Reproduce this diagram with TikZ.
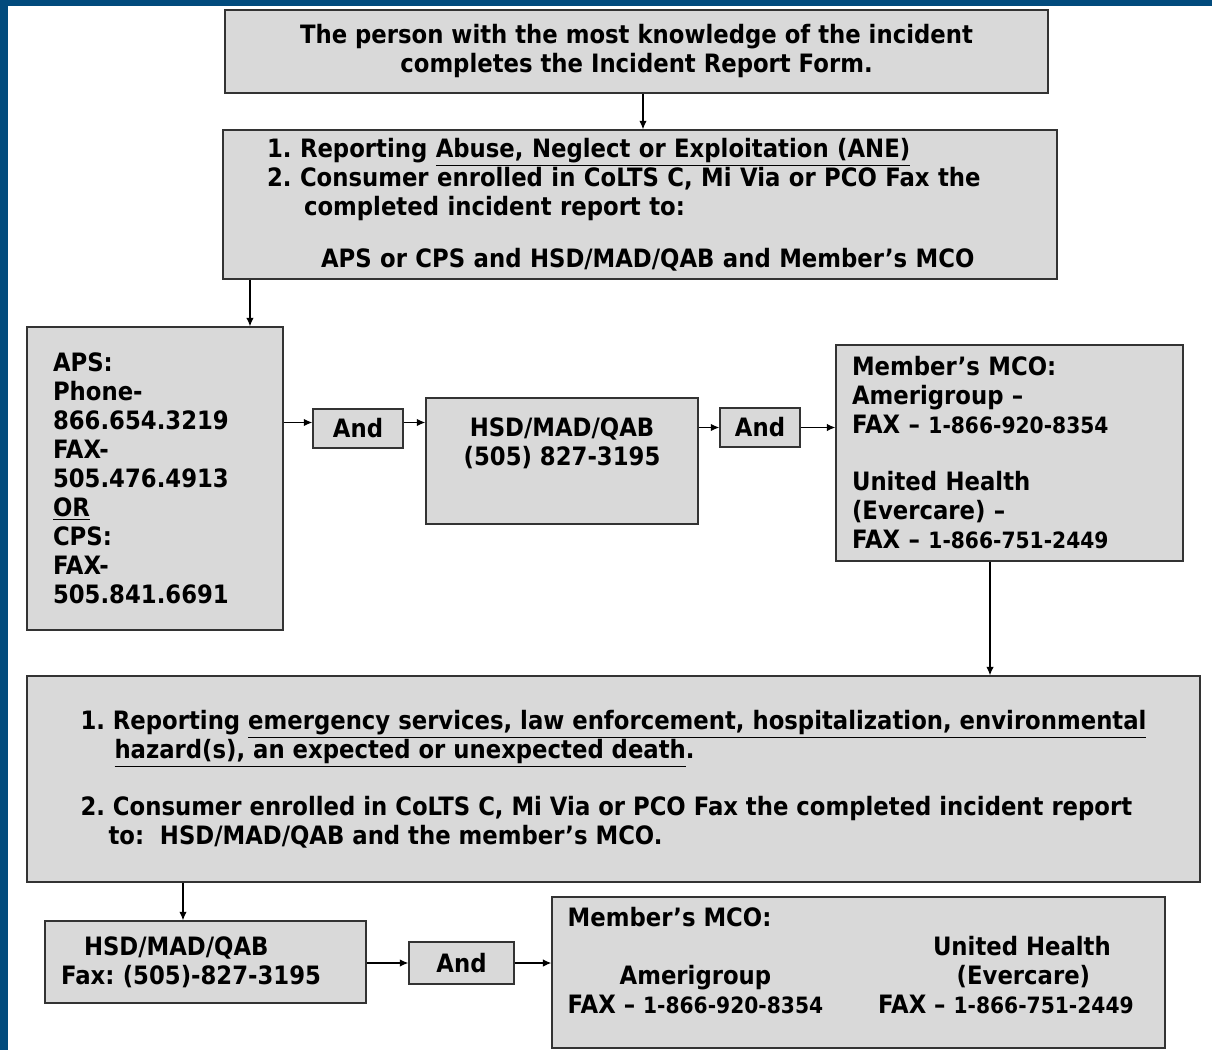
\documentclass[tikz,border=0pt]{standalone}
\usepackage{fontspec}
\setmainfont{DejaVu Sans}[FakeStretch=0.9]
\usetikzlibrary{arrows.meta,positioning,calc}
\definecolor{framebl}{RGB}{2,75,125}
\definecolor{boxgray}{RGB}{217,217,217}
\newcommand{\phn}[1]{{\fontsize{12.8}{16.5}\selectfont #1}}
\frenchspacing

\begin{document}
\begin{tikzpicture}[
  x=0.02cm, y=-0.02cm,
  font=\bfseries\fontsize{14.4}{16.5}\selectfont,
  box/.style={draw=black!80,line width=0.8pt,fill=boxgray,inner sep=0pt},
  andbox/.style={box,align=center},
  flow/.style={-{Latex[length=1.7mm,width=1.5mm]},line width=0.7pt}
]
% frame
\fill[framebl] (0,0) rectangle (1212,1050);
\fill[white] (8,6) rectangle (1212,1050);
\useasboundingbox (0,0) rectangle (1212,1050);

% upper half
\node[box,minimum width=164.6mm,minimum height=16.6mm,align=center] (form) at (636.5,51.5)
  {The person with the most knowledge of the incident\\completes the Incident Report Form.};
\node[box,minimum height=29.8mm,text width=149.2mm,inner xsep=8.8mm,align=left] (ane) at (640,204.5)
  {1. Reporting \underline{Abuse, Neglect or Exploitation (ANE)}\\
   2. Consumer enrolled in CoLTS C, Mi Via or PCO Fax the\\
   \hspace*{7.4mm}completed incident report to:\\[4.6mm]
   \hspace*{10.8mm}APS or CPS and HSD/MAD/QAB and Member’s MCO};
\node[box,minimum height=60.6mm,text width=40.8mm,inner xsep=5.2mm,align=left] (aps) at (155,478.5)
  {APS:\\Phone-\\866.654.3219\\FAX-\\505.476.4913\\\underline{OR}\\CPS:\\FAX-\\505.841.6691};
\node[andbox,minimum width=18mm,minimum height=7.8mm] (and1) at (358,428.5) {And};
\node[box,minimum width=54.4mm,minimum height=25.2mm] (hsd) at (562,461) {};
\node[anchor=north,inner sep=0pt,align=center] (hsdtxt) at ([yshift=-4mm]hsd.north)
  {HSD/MAD/QAB\\(505) 827-3195};
\node[andbox,minimum width=16mm,minimum height=7.8mm] (and2) at (760,427.5) {And};
\node[box,minimum height=43.2mm,text width=63mm,inner xsep=3.2mm,align=left] (mco) at (1009.5,453)
  {Member’s MCO:\\Amerigroup –\\FAX – \phn{1-866-920-8354}\\[5.6mm]
   United Health\\(Evercare) –\\FAX – \phn{1-866-751-2449}};

% lower half
\node[box,minimum width=234.6mm,minimum height=41.2mm,align=left] (emerg) at (613.5,779)
  {1. Reporting \underline{emergency services, law enforcement, hospitalization, environmental}\\
   \hspace*{6.8mm}\underline{hazard(s), an expected or unexpected death}.\\[5.6mm]
   2. Consumer enrolled in CoLTS C, Mi Via or PCO Fax the completed incident report\\
   \hspace*{5.6mm}to:\ \ HSD/MAD/QAB and the member’s MCO.};
\node[box,minimum height=16.4mm,text width=57.8mm,inner xsep=3.2mm,align=left] (hsdfax) at (205.5,962)
  {\hspace*{4.6mm}HSD/MAD/QAB\\Fax: (505)-827-3195};
\node[andbox,minimum width=21mm,minimum height=8.4mm] (and3) at (461.5,963) {And};
\node[box,minimum width=122.6mm,minimum height=30.2mm] (mco2) at (858.5,972.5) {};
\node[anchor=north west,inner sep=0pt] (mcolist) at ([xshift=3.2mm,yshift=-2mm]mco2.north west)
  {\begin{tabular}{@{}c@{\hspace{11mm}}c@{}}
   \multicolumn{2}{@{}l}{Member’s MCO:}\\
    & \hspace*{6.4mm}United Health\\
   Amerigroup & \hspace*{7mm}(Evercare)\\
   FAX – \phn{1-866-920-8354} & FAX – \phn{1-866-751-2449}
   \end{tabular}};

% connectors
\draw[flow] ([xshift=1.3mm]form.south) -- ([xshift=1.3mm]form.south |- ane.north);
\draw[flow] ([xshift=19mm]aps.north |- ane.south) -- ([xshift=19mm]aps.north);
\draw[flow] ([yshift=1.2mm]and1.west -| aps.east) -- ([yshift=1.2mm]and1.west);
\draw[flow] ([yshift=1.2mm]and1.east) -- ([yshift=1.2mm]and1.east -| hsd.west);
\draw[flow] (and2.west -| hsd.east) -- (and2.west);
\draw[flow] (and2.east) -- (and2.east -| mco.west);
\draw[flow] ([xshift=-3.9mm]mco.south) -- ([xshift=-3.9mm]mco.south |- emerg.north);
\draw[flow] ([xshift=-4.5mm]hsdfax.north |- emerg.south) -- ([xshift=-4.5mm]hsdfax.north);
\draw[flow] (hsdfax.east |- and3.west) -- (and3.west);
\draw[flow] (and3.east) -- (and3.east -| mco2.west);
\end{tikzpicture}
\end{document}
